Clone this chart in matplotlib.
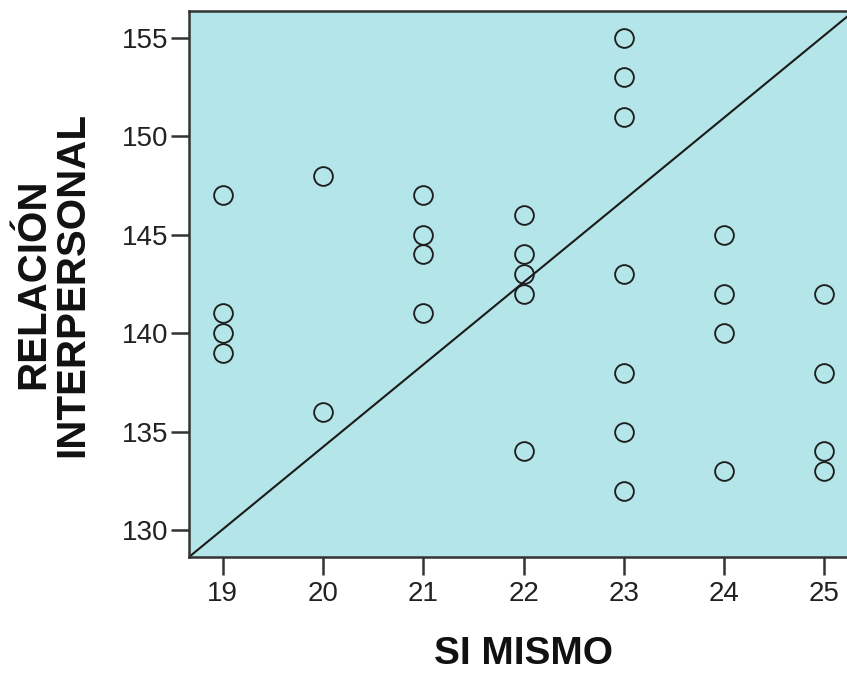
import matplotlib
matplotlib.use("Agg")
import matplotlib.pyplot as plt

# SI MISMO vs RELACION INTERPERSONAL scores
si_mismo = [19, 19, 19, 19,
            20, 20,
            21, 21, 21, 21,
            22, 22, 22, 22, 22,
            23, 23, 23, 23, 23, 23, 23,
            24, 24, 24, 24,
            25, 25, 25, 25]
relacion = [147, 141, 140, 139,
            148, 136,
            147, 145, 144, 141,
            146, 144, 143, 142, 134,
            155, 153, 151, 143, 138, 135, 132,
            145, 142, 140, 133,
            142, 138, 134, 133]

x_ticks = [19, 20, 21, 22, 23, 24, 25]
y_ticks = [130, 135, 140, 145, 150, 155]

plt.rcParams['font.family'] = ['Liberation Sans', 'DejaVu Sans']

W, H = 847, 673
fig = plt.figure(figsize=(W / 100, H / 100), dpi=100)
ax = fig.add_axes([189 / W, 1 - 557 / H, 665 / W, 546 / H])
ax.set_facecolor('#b4e5e8')

ax.plot(si_mismo, relacion, 'o', markersize=13.5, markerfacecolor='none',
        markeredgecolor='#1e1e1e', markeredgewidth=1.35, linestyle='none')

# reference diagonal across the plot area
ax.plot([0, 1], [0, 1], transform=ax.transAxes, color='#1a1a1a', linewidth=1.5)

ax.set_xlim(18.664, 25.296)
ax.set_ylim(128.63, 156.36)
ax.set_xticks(x_ticks)
ax.set_yticks(y_ticks)

for side in ['left', 'bottom', 'top', 'right']:
    ax.spines[side].set_color('#333333')
    ax.spines[side].set_linewidth(1.8)

ax.tick_params(axis='both', direction='out', length=13, width=1.8,
               color='#333333', labelsize=20, labelcolor='#222222')
ax.tick_params(axis='x', pad=4)
ax.tick_params(axis='y', pad=2)

fig.text(524 / W, 1 - 664 / H, 'SI MISMO', ha='center', va='baseline',
         fontsize=28, fontweight='bold', color='#111111')
fig.text(53 / W, 1 - 284 / H, 'RELACIÓN\nINTERPERSONAL', ha='center',
         va='center', rotation=90, fontsize=29, fontweight='bold',
         color='#111111', linespacing=1.05, multialignment='center')

fig.savefig('out.png', dpi=100)
